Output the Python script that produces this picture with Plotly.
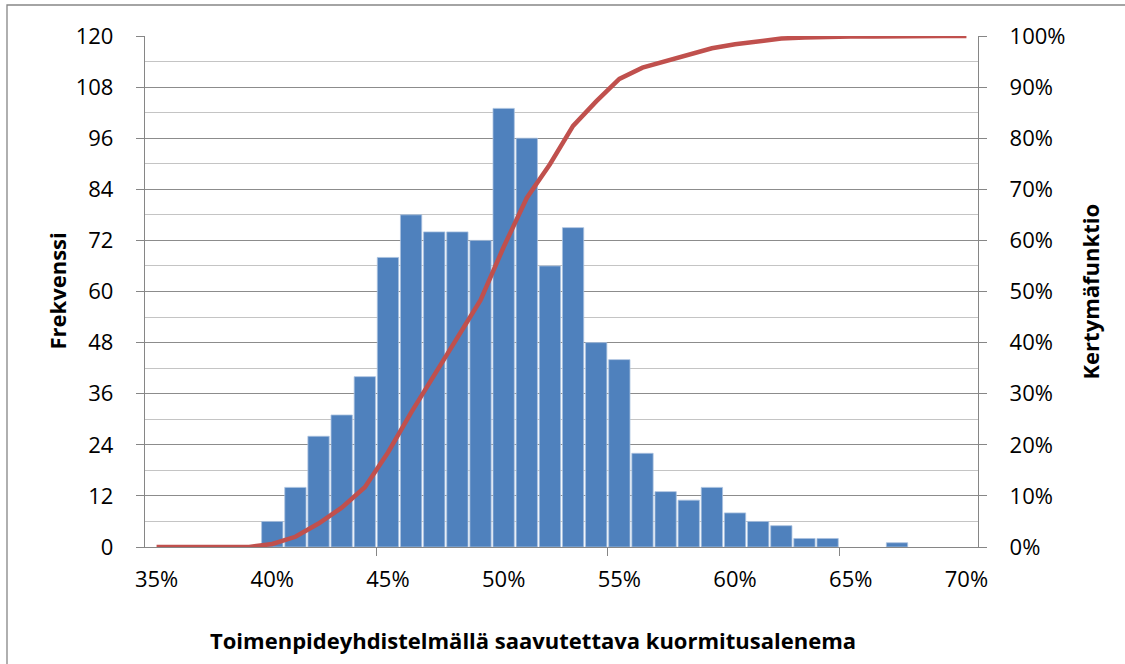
import plotly.graph_objects as go

# Histogram bins (reduction share, %) and counts per bin
bins = [35, 36, 37, 38, 39, 40, 41, 42, 43, 44, 45, 46, 47, 48, 49, 50, 51, 52,
        53, 54, 55, 56, 57, 58, 59, 60, 61, 62, 63, 64, 65, 66, 67, 68, 69, 70]
frequency = [0, 0, 0, 0, 0, 6, 14, 26, 31, 40, 68, 78, 74, 74, 72, 103, 96, 66,
             75, 48, 44, 22, 13, 11, 14, 8, 6, 5, 2, 2, 0, 0, 1, 0, 0, 0]
# Cumulative distribution (share of cases)
cumulative = [0.0, 0.0, 0.0, 0.0, 0.0, 0.006, 0.020, 0.046, 0.077, 0.117, 0.185,
              0.263, 0.337, 0.411, 0.483, 0.587, 0.683, 0.749, 0.824, 0.872,
              0.916, 0.938, 0.951, 0.962, 0.976, 0.984, 0.990, 0.995, 0.997,
              0.999, 0.999, 0.999, 1.0, 1.0, 1.0, 1.0]

x_label_vals = [35, 40, 45, 50, 55, 60, 65, 70]
x_label_text = ["35%", "40%", "45%", "50%", "55%", "60%", "65%", "70%"]
x_tick_marks = [44.5, 54.5, 64.5]
y_left_ticks = [0, 12, 24, 36, 48, 60, 72, 84, 96, 108, 120]

AXIS = "#868686"
GRID_MAJOR = "#8C8C8C"
GRID_MINOR = "#C4C4C4"
FONT = "Open Sans"
TICK_SIZE = 22
TITLE_SIZE = 22

# no outline on empty bins, so nothing is drawn along the baseline there
bar_outline = [0.8 if v > 0 else 0 for v in frequency]

fig = go.Figure()

fig.add_trace(go.Bar(
    x=bins, y=frequency, xaxis="x", yaxis="y",
    marker=dict(color="#4F81BD", line=dict(color="#A9C1DF", width=bar_outline)),
    name="Frekvenssi", showlegend=False,
))

fig.add_trace(go.Scatter(
    x=bins, y=cumulative, xaxis="x", yaxis="y2", mode="lines",
    line=dict(color="#C0504D", width=4.5),
    name="Kertymäfunktio", showlegend=False,
))

# invisible helper so the label axis is drawn
fig.add_trace(go.Scatter(x=[bins[0]], y=[0], xaxis="x2", yaxis="y",
                         mode="markers", marker=dict(opacity=0),
                         showlegend=False, hoverinfo="skip"))

fig.update_layout(
    width=1125, height=664,
    margin=dict(l=145, r=147, t=36, b=117),
    paper_bgcolor="white", plot_bgcolor="white",
    bargap=0.08,
    font=dict(family=FONT, size=TICK_SIZE, color="#000000"),
    xaxis=dict(
        range=[34.5, 70.5], tickmode="array", tickvals=x_tick_marks,
        showticklabels=False, ticks="outside", ticklen=8, tickwidth=1.3,
        tickcolor=AXIS, showline=True, linecolor=AXIS, linewidth=1.3,
        showgrid=False, zeroline=False,
    ),
    xaxis2=dict(
        overlaying="x", matches="x", range=[34.5, 70.5], side="bottom",
        tickmode="array", tickvals=x_label_vals, ticktext=x_label_text,
        ticks="", showline=False, showgrid=False, zeroline=False,
        ticklabelstandoff=17, tickfont=dict(family=FONT, size=TICK_SIZE),
    ),
    yaxis=dict(
        range=[0, 120], tickmode="array", tickvals=y_left_ticks,
        ticks="outside", ticklen=8, tickwidth=1.3, tickcolor=AXIS,
        showline=True, linecolor=AXIS, linewidth=1.3,
        showgrid=True, gridcolor=GRID_MAJOR, gridwidth=1.3,
        minor=dict(dtick=6, tick0=0, showgrid=True, gridcolor=GRID_MINOR,
                   gridwidth=1, ticks=""),
        zeroline=False, ticklabelstandoff=18,
        tickfont=dict(family=FONT, size=TICK_SIZE),
    ),
    yaxis2=dict(
        overlaying="y", side="right", range=[0, 1], dtick=0.1, tick0=0,
        tickformat=".0%", ticks="outside", ticklen=8, tickwidth=1.3,
        tickcolor=AXIS, showline=True, linecolor=AXIS, linewidth=1.3,
        showgrid=False, zeroline=False, ticklabelstandoff=18,
        tickfont=dict(family=FONT, size=TICK_SIZE),
    ),
    annotations=[
        dict(text="<b>Toimenpideyhdistelmällä saavutettava kuormitusalenema</b>",
             xref="paper", yref="paper", x=(533 - 145) / 833, y=(547 - 640) / 511,
             xanchor="center", yanchor="middle", showarrow=False,
             font=dict(family=FONT, size=TITLE_SIZE)),
        dict(text="<b>Frekvenssi</b>", textangle=-90,
             xref="paper", yref="paper", x=(56 - 145) / 833, y=0.5,
             xanchor="center", yanchor="middle", showarrow=False,
             font=dict(family=FONT, size=TITLE_SIZE)),
        dict(text="<b>Kertymäfunktio</b>", textangle=-90,
             xref="paper", yref="paper", x=(1089 - 145) / 833, y=0.5,
             xanchor="center", yanchor="middle", showarrow=False,
             font=dict(family=FONT, size=TITLE_SIZE)),
    ],
    shapes=[
        dict(type="rect", xref="paper", yref="paper", layer="below",
             x0=(7 - 145) / 833, x1=(1135 - 145) / 833,
             y0=(547 - 680) / 511, y1=(547 - 5) / 511,
             line=dict(color=AXIS, width=1.3), fillcolor="rgba(0,0,0,0)"),
    ],
)

fig.write_html("out.html")
